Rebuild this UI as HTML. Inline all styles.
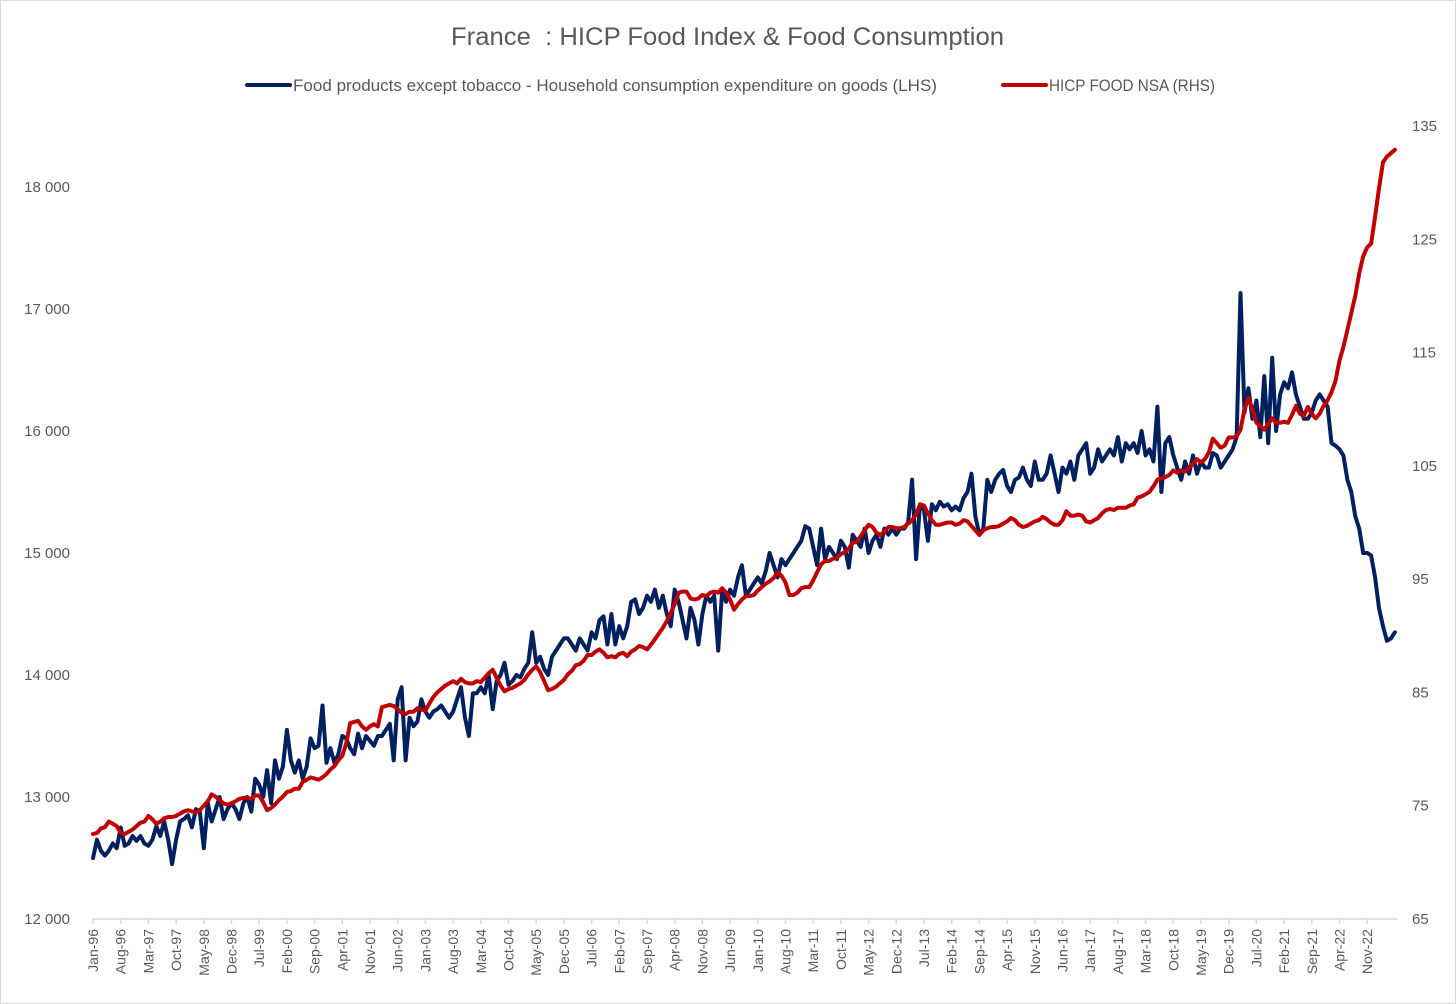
<!DOCTYPE html>
<html><head><meta charset="utf-8">
<style>
html,body{margin:0;padding:0;background:#fff;}
#wrap{position:relative;width:1456px;height:1004px;overflow:hidden;font-family:"Liberation Sans",sans-serif;}
#border{position:absolute;left:0;top:0;width:1454px;height:1002px;border:1px solid #d9d9d9;}
</style></head>
<body>
<div id="wrap">
<div id="border"></div>
<svg id="chart" width="1456" height="1004" style="position:absolute;left:0;top:0">
<text x="451" y="45" textLength="553" lengthAdjust="spacingAndGlyphs" font-size="25" fill="#595959" xml:space="preserve">France  : HICP Food Index &amp; Food Consumption</text>
<g>
<g>
<line x1="247" y1="85" x2="290" y2="85" stroke="#002060" stroke-width="4" stroke-linecap="round"/>
<text x="293" y="91" font-size="16.5" textLength="644" lengthAdjust="spacingAndGlyphs" fill="#595959">Food products except tobacco - Household consumption expenditure on goods (LHS)</text>
</g>
<g>
<line x1="1003" y1="85" x2="1046" y2="85" stroke="#C00000" stroke-width="4" stroke-linecap="round"/>
<text x="1049" y="91" font-size="16.5" textLength="166" lengthAdjust="spacingAndGlyphs" fill="#595959">HICP FOOD NSA (RHS)</text>
</g>
</g>
<g id="axes"></g>
<g id="series"></g>
</svg>
</div>
<script>
const months=['Jan','Feb','Mar','Apr','May','Jun','Jul','Aug','Sep','Oct','Nov','Dec'];
const leftTicks=[12000,13000,14000,15000,16000,17000,18000];
const rightTicks=[65,75,85,95,105,115,125,135];
const consumption=[
12500,12650,12560,12520,12560,12620,12580,12750,12600,12620,12680,12640,
12680,12620,12600,12650,12760,12680,12800,12650,12450,12650,12800,12820,
12850,12750,12900,12880,12580,12950,12800,12900,13000,12820,12900,12950,
12900,12820,12950,13000,12880,13150,13100,13000,13220,12950,13300,13150,
13250,13550,13300,13200,13300,13150,13250,13480,13400,13420,13750,13280,
13400,13280,13350,13500,13480,13400,13350,13520,13400,13500,13460,13420,
13500,13500,13550,13600,13300,13800,13900,13300,13650,13580,13620,13800,
13700,13650,13700,13720,13750,13700,13650,13700,13800,13900,13650,13500,
13850,13850,13900,13850,14000,13720,13950,14000,14100,13920,13950,14000,
13980,14050,14100,14350,14100,14150,14050,14000,14150,14200,14250,14300,
14300,14250,14200,14300,14250,14200,14350,14300,14450,14480,14250,14500,
14250,14400,14300,14400,14600,14620,14500,14550,14650,14600,14700,14550,
14650,14500,14400,14700,14600,14450,14300,14550,14450,14250,14500,14650,
14600,14650,14200,14700,14600,14700,14650,14800,14900,14650,14700,14750,
14800,14750,14850,15000,14900,14800,14950,14900,14950,15000,15050,15100,
15220,15200,15050,14900,15200,14950,15050,15000,14950,15100,15050,14880,
15150,15100,15050,15200,15000,15100,15150,15050,15200,15150,15200,15150,
15200,15200,15250,15600,14950,15400,15350,15100,15400,15350,15420,15380,
15400,15350,15380,15350,15450,15500,15650,15300,15150,15200,15600,15500,
15600,15650,15680,15550,15500,15600,15620,15700,15600,15550,15750,15600,
15600,15650,15800,15650,15500,15700,15650,15750,15600,15800,15850,15900,
15650,15700,15850,15750,15800,15850,15800,15950,15750,15900,15850,15900,
15820,16000,15800,15850,15750,16200,15500,15900,15950,15800,15700,15600,
15750,15650,15800,15650,15750,15700,15700,15820,15800,15700,15750,15800,
15850,15950,17130,16150,16350,16100,16250,15950,16450,15900,16600,16000,
16300,16400,16350,16480,16300,16200,16100,16100,16150,16250,16300,16250,
16200,15900,15880,15850,15800,15600,15500,15300,15200,15000,15000,14980,
14800,14550,14400,14280,14300,14350];
const hicp=[
72.5,72.6,73,73.1,73.6,73.4,73.2,72.6,72.5,72.7,72.9,73.2,
73.5,73.6,74.1,73.8,73.4,73.6,73.9,74,74,74.1,74.3,74.5,
74.6,74.5,74.4,74.6,75,75.4,76,75.8,75.5,75.2,75.1,75.2,
75.4,75.6,75.7,75.7,75.6,75.9,75.9,75.3,74.6,74.8,75.1,75.5,
75.8,76.2,76.3,76.5,76.5,77.1,77.3,77.5,77.4,77.3,77.5,77.8,
78.2,78.5,79,79.4,80.5,82.3,82.4,82.5,82,81.7,82,82.2,
82,83.7,83.8,83.9,83.8,83.5,83.2,83.1,83.3,83.3,83.6,83.5,
83.4,84,84.6,85,85.3,85.6,85.8,86,85.8,86.2,85.9,85.8,
85.8,86,85.9,86.3,86.7,87,86.3,85.6,85.1,85.3,85.4,85.6,
85.8,86.1,86.6,87,87.3,86.8,86,85.2,85.3,85.5,85.8,86.1,
86.6,86.9,87.4,87.5,87.8,88.3,88.3,88.6,88.8,88.5,88.1,88.2,
88.1,88.4,88.5,88.2,88.6,88.8,89.1,89,88.8,89.2,89.7,90.2,
90.7,91.3,92,92.8,93.8,93.9,93.9,93.3,93.2,93.3,93.6,93.5,
93.8,93.9,93.8,94.2,93.8,93.2,92.3,92.8,93.2,93.5,93.5,93.6,
94,94.3,94.6,94.8,95.1,95.6,95.3,94.7,93.6,93.6,93.8,94.2,
94.3,94.3,94.9,95.6,96.3,96.6,96.6,96.8,96.9,97.2,97.4,97.7,
98.2,98.3,98.8,99.3,99.8,99.6,99.1,98.9,99.2,99.6,99.6,99.5,
99.5,99.6,99.9,100.2,100.7,101.6,101.5,100.8,100.2,99.8,99.8,99.9,
100,100,99.8,99.9,100.2,100.1,99.7,99.3,98.9,99.3,99.5,99.6,
99.6,99.7,99.9,100.1,100.4,100.2,99.8,99.6,99.7,99.9,100.1,100.2,
100.5,100.3,100,99.8,99.8,100.2,101,100.6,100.6,100.7,100.6,100.1,
100,100.2,100.4,100.8,101.1,101.2,101.1,101.3,101.3,101.3,101.5,101.6,
102.2,102.3,102.5,102.7,103.2,103.8,103.9,104,104.2,104.6,104.4,104.6,
104.5,104.8,105.2,105.6,105.3,105.6,106.2,107.4,107,106.6,106.8,107.5,
107.5,107.6,108.2,110,111,110,108.8,108.5,108.2,108.7,109.2,108.8,
108.8,108.9,108.8,109.5,110.3,109.6,109.4,110.2,109.6,109.2,109.6,110.3,
110.8,111.5,112.5,114.3,115.5,117,118.5,120,122,123.5,124.3,124.6,
127,129.5,131.8,132.3,132.6,132.9];

const NS='http://www.w3.org/2000/svg';
const X0=93, DX=3.957, AXY=919;
function xPos(i){return X0+DX*i;}
function yL(v){return 919-(v-12000)*0.122;}
function yR(v){return 919-(v-65)*(793/70);}
function mk(tag,attrs,parent){const e=document.createElementNS(NS,tag);for(const k in attrs)e.setAttribute(k,attrs[k]);parent.appendChild(e);return e;}
const axes=document.getElementById('axes');
const series=document.getElementById('series');
const n=Math.max(consumption.length,hicp.length);
const ax=mk('line',{x1:X0-1,y1:AXY,x2:xPos(n-1)+3,y2:AXY,stroke:'#d9d9d9','stroke-width':1.5},axes);


for(let i=0;i+7<=n;i+=7){
  const x=xPos(i);
  const t=mk('line',{x1:x,y1:AXY,x2:x,y2:AXY+5,stroke:'#d9d9d9','stroke-width':1.5},axes);
  
  
  const yr=(1996+Math.floor(i/12))%100;
  const lbl=months[i%12]+'-'+String(yr).padStart(2,'0');
  const tx=mk('text',{x:0,y:0,'font-size':14,fill:'#595959','text-anchor':'end',transform:'translate('+(x+5)+','+(AXY+10)+') rotate(-90)'},axes);
  tx.textContent=lbl;
  
  
}
leftTicks.forEach(v=>{
  const t=mk('text',{x:70,y:yL(v)+5,'font-size':15,fill:'#595959','text-anchor':'end'},axes);
  t.textContent=String(v).replace(/\B(?=(\d{3})+$)/,' ');
  
  
});
rightTicks.forEach(v=>{
  const t=mk('text',{x:1412,y:yR(v)+5,'font-size':15,fill:'#595959','text-anchor':'start'},axes);
  t.textContent=String(v);
  
  
});
const pb=mk('polyline',{points:consumption.map((v,i)=>xPos(i).toFixed(1)+','+yL(v).toFixed(1)).join(' '),fill:'none',stroke:'#002060','stroke-width':4,'stroke-linejoin':'round','stroke-linecap':'round'},series);


const pr=mk('polyline',{points:hicp.map((v,i)=>xPos(i).toFixed(1)+','+yR(v).toFixed(1)).join(' '),fill:'none',stroke:'#C00000','stroke-width':4,'stroke-linejoin':'round','stroke-linecap':'round'},series);


</script>
</body></html>
